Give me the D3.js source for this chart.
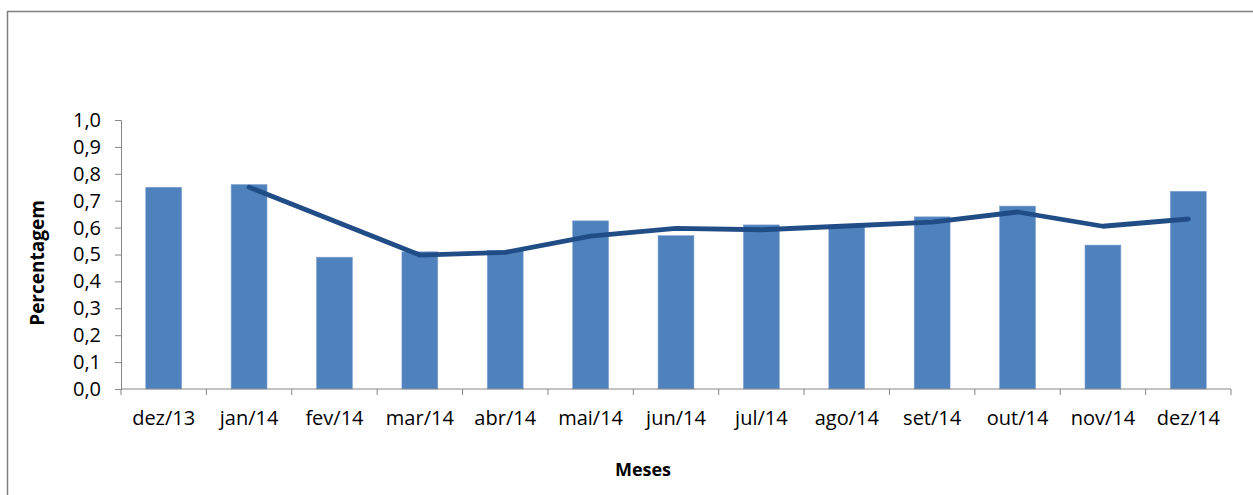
<!DOCTYPE html>
<html>
<head>
<meta charset="utf-8">
<script src="https://cdn.jsdelivr.net/npm/d3@7"></script>
<style>
  html, body { margin: 0; padding: 0; background: #fff; }
  svg { display: block; }
  text { font-family: "Open Sans", "DejaVu Sans", sans-serif; fill: #000; }
</style>
</head>
<body>
<svg id="chart" width="1253" height="495"></svg>
<script>
const categories = ["dez/13","jan/14","fev/14","mar/14","abr/14","mai/14","jun/14","jul/14","ago/14","set/14","out/14","nov/14","dez/14"];
const barValues = [0.75, 0.76, 0.49, 0.51, 0.515, 0.625, 0.57, 0.61, 0.605, 0.64, 0.68, 0.535, 0.735];
const lineValues = [null, 0.75, null, 0.498, 0.508, 0.568, 0.597, 0.592, 0.606, 0.62, 0.658, 0.605, 0.632];
const yTicks = [0, 0.1, 0.2, 0.3, 0.4, 0.5, 0.6, 0.7, 0.8, 0.9, 1.0];
const yTitle = "Percentagem";
const xTitle = "Meses";

const svg = d3.select("#chart");
const W = 1253, H = 495;
const plot = { left: 121, right: 1231, top: 120, bottom: 389 };
const axisColor = "#868686";

// outer frame (right/bottom edges off-canvas)
svg.append("rect")
  .attr("x", 7.5).attr("y", 11.5)
  .attr("width", W + 10).attr("height", H + 10)
  .attr("fill", "none").attr("stroke", "#7f7f7f").attr("stroke-width", 1.5);

const x = d3.scaleBand().domain(categories).range([plot.left, plot.right]).paddingInner(0.58).paddingOuter(0.29);
const xb = d3.scaleBand().domain(categories).range([plot.left, plot.right]);
const y = d3.scaleLinear().domain([0, 1]).range([plot.bottom, plot.top]);

// bars
svg.append("g").selectAll("rect").data(categories).join("rect")
  .attr("x", d => x(d))
  .attr("y", (d, i) => y(barValues[i]))
  .attr("width", x.bandwidth())
  .attr("height", (d, i) => y(0) - y(barValues[i]))
  .attr("fill", "#4F81BD")
  .attr("stroke", "#7FA2CF").attr("stroke-width", 0.6);

// y axis
const yAxis = d3.axisLeft(y).tickValues(yTicks).tickSize(6).tickPadding(14)
  .tickFormat(d => d3.format(".1f")(d).replace(".", ","));
const gy = svg.append("g").attr("transform", `translate(${plot.left},0)`).call(yAxis);
gy.select(".domain").attr("stroke", axisColor);
gy.selectAll(".tick line").attr("stroke", axisColor);
gy.selectAll(".tick text").attr("font-size", 20).attr("fill", "#000")
  .style("font-family", '"Open Sans", sans-serif');

// x axis: ticks at category boundaries
const gx = svg.append("g").attr("transform", `translate(0,${plot.bottom})`);
gx.append("line").attr("x1", plot.left).attr("x2", plot.right).attr("y1", 0).attr("y2", 0)
  .attr("stroke", axisColor);
const boundaries = categories.map(c => xb(c)).concat([plot.right]);
gx.selectAll("line.tk").data(boundaries).join("line").attr("class", "tk")
  .attr("x1", d => d).attr("x2", d => d).attr("y1", 0).attr("y2", 6)
  .attr("stroke", axisColor);
gx.selectAll("text").data(categories).join("text")
  .attr("x", d => xb(d) + xb.bandwidth() / 2)
  .attr("y", 36)
  .attr("text-anchor", "middle")
  .attr("font-size", 20)
  .text(d => d);

// line
const line = d3.line()
  .x(d => xb(d.c) + xb.bandwidth() / 2)
  .y(d => y(d.v));
const lineData = categories.map((c, i) => ({ c, v: lineValues[i] })).filter(d => d.v !== null);
svg.append("path").datum(lineData)
  .attr("d", line)
  .attr("fill", "none")
  .attr("stroke", "#214D86")
  .attr("stroke-width", 4.8)
  .attr("stroke-linejoin", "round")
  .attr("stroke-linecap", "round");

// titles
svg.append("text")
  .attr("transform", `translate(44,263) rotate(-90)`)
  .attr("text-anchor", "middle")
  .attr("font-size", 19).attr("font-weight", "bold")
  .text(yTitle);
svg.append("text")
  .attr("x", 643).attr("y", 476)
  .attr("text-anchor", "middle")
  .attr("font-size", 18).attr("font-weight", "bold")
  .text(xTitle);
</script>
</body>
</html>
